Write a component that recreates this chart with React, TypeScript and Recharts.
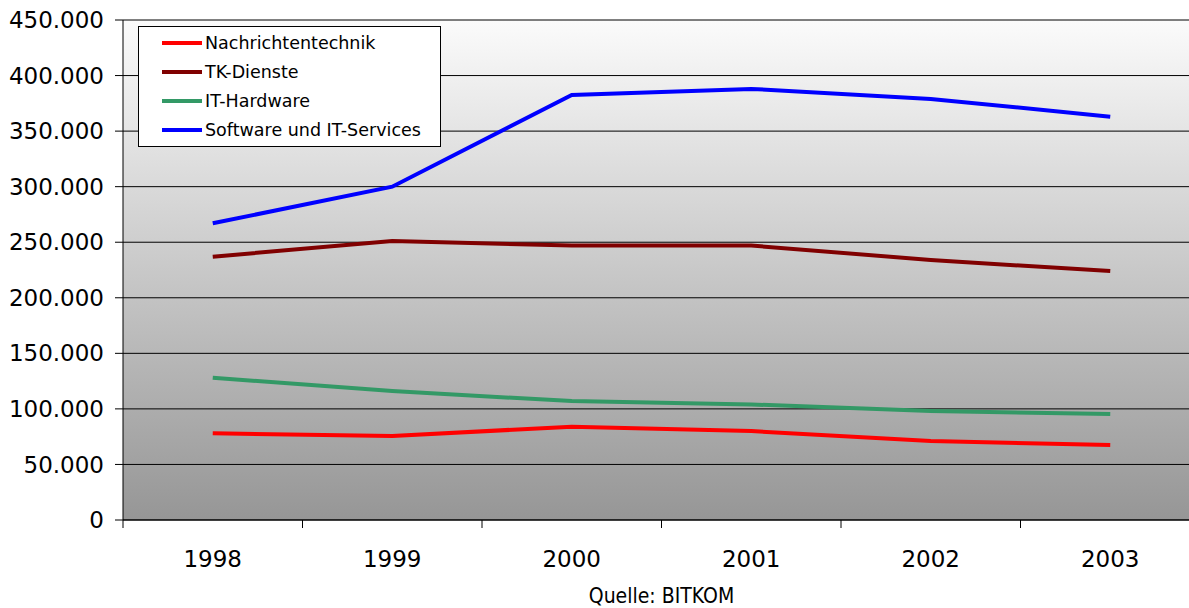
import React from 'react';
import { LineChart, Line, XAxis, YAxis, CartesianGrid, Label } from 'recharts';

const years = ['1998', '1999', '2000', '2001', '2002', '2003'];
const nachrichtentechnik = [78000, 75600, 84000, 80000, 71000, 67500];
const tkDienste = [237000, 251000, 247000, 247000, 234000, 224000];
const itHardware = [128000, 116000, 107000, 104000, 98000, 95400];
const software = [267000, 300000, 382500, 388000, 379000, 363000];
const yTicks = [0, 50000, 100000, 150000, 200000, 250000, 300000, 350000, 400000, 450000];

const series = [
  { key: 'nt', name: 'Nachrichtentechnik', color: '#FF0000' },
  { key: 'tk', name: 'TK-Dienste', color: '#800000' },
  { key: 'hw', name: 'IT-Hardware', color: '#339966' },
  { key: 'sw', name: 'Software und IT-Services', color: '#0000FF' },
];

const data = years.map((year, i) => ({
  x: i + 0.5,
  year,
  nt: nachrichtentechnik[i],
  tk: tkDienste[i],
  hw: itHardware[i],
  sw: software[i],
}));

const font = '"DejaVu Sans", Verdana, sans-serif';

const fmt = (v: number) => (v === 0 ? '0' : (v / 1000).toFixed(0) + '.000');

function LegendBox() {
  return (
    <div
      style={{
        position: 'absolute',
        left: 138,
        top: 26,
        width: 303,
        height: 121,
        background: '#fff',
        border: '1px solid #000',
        fontFamily: font,
        fontSize: 17.5,
        color: '#000',
        paddingTop: 1,
        boxSizing: 'border-box',
      }}
    >
      {series.map((s) => (
        <div key={s.key} style={{ display: 'flex', alignItems: 'center', height: 29 }}>
          <div style={{ marginLeft: 23, width: 40, height: 4, background: s.color }} />
          <span style={{ marginLeft: 3 }}>{s.name}</span>
        </div>
      ))}
    </div>
  );
}

export default function App() {
  return (
    <div style={{ position: 'fixed', left: 0, top: 0, width: 1189, height: 608, overflow: 'hidden', background: '#fff' }}>
      <svg width={0} height={0} style={{ position: 'absolute' }}>
        <defs>
          <linearGradient id="bg" x1="0" y1="0" x2="0" y2="1">
            <stop offset="0%" stopColor="#fbfbfb" />
            <stop offset="100%" stopColor="#969696" />
          </linearGradient>
        </defs>
      </svg>
      <LineChart width={1200} height={608} data={data} margin={{ top: 20, right: 0, bottom: 0, left: 0 }}>
        <CartesianGrid vertical={false} stroke="#000" strokeOpacity={1} fill="url(#bg)" />
        <XAxis
          xAxisId="grid"
          type="number"
          dataKey="x"
          domain={[0, 6]}
          ticks={[0, 1, 2, 3, 4, 5, 6]}
          tickFormatter={() => ''}
          height={1}
          tickSize={8}
          tickLine={{ stroke: '#000' }}
          axisLine={{ stroke: '#000' }}
        />
        <XAxis
          xAxisId="lab"
          type="number"
          dataKey="x"
          domain={[0, 6]}
          ticks={[0.5, 1.5, 2.5, 3.5, 4.5, 5.5]}
          tickFormatter={(v: number) => years[Math.floor(v)]}
          height={87}
          tickSize={0}
          tickMargin={30}
          tickLine={false}
          axisLine={false}
          tick={{ fill: '#000', fontSize: 23, fontFamily: font }}
        >
          <Label
            value="Quelle: BITKOM"
            position="insideBottom"
            offset={5}
            style={{ fill: '#000', fontSize: 21, fontFamily: '"DejaVu Sans Condensed", "DejaVu Sans", sans-serif' }}
          />
        </XAxis>
        <YAxis
          type="number"
          domain={[0, 450000]}
          ticks={yTicks}
          tickFormatter={fmt}
          width={123}
          tickSize={8}
          tickMargin={11}
          tickLine={{ stroke: '#000' }}
          axisLine={{ stroke: '#000' }}
          tick={{ fill: '#000', fontSize: 23, fontFamily: font }}
        />
        {series.map((s) => (
          <Line
            key={s.key}
            xAxisId="lab"
            type="linear"
            dataKey={s.key}
            name={s.name}
            stroke={s.color}
            strokeWidth={4}
            dot={false}
            activeDot={false}
            isAnimationActive={false}
          />
        ))}
      </LineChart>
      <LegendBox />
    </div>
  );
}
